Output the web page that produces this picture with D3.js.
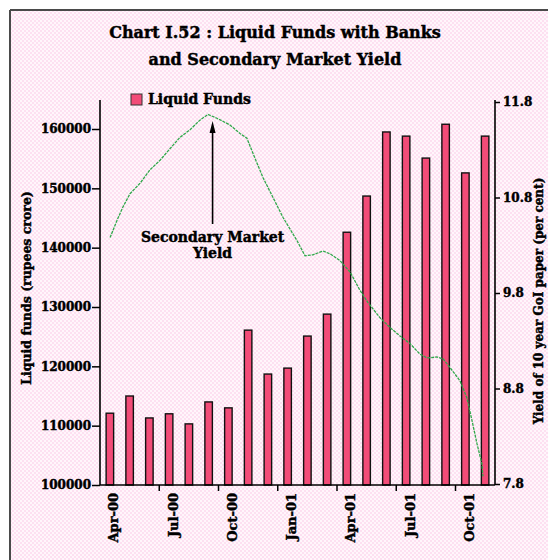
<!DOCTYPE html>
<html>
<head>
<meta charset="utf-8">
<script src="https://cdn.jsdelivr.net/npm/d3@7"></script>
<style>
  html, body { margin: 0; padding: 0; background: #ffffff; }
  svg { display: block; }
  text { font-family: "DejaVu Serif", "Liberation Serif", serif; font-weight: bold; fill: #000; stroke: #000; stroke-width: 0.45px; }
</style>
</head>
<body>
<script>
// ---------- DATA ----------
const months = ["Apr-00","May-00","Jun-00","Jul-00","Aug-00","Sep-00","Oct-00","Nov-00","Dec-00","Jan-01",
                "Feb-01","Mar-01","Apr-01","May-01","Jun-01","Jul-01","Aug-01","Sep-01","Oct-01","Nov-01"];
const liquidFunds = [112100,115000,111300,112000,110300,114000,113000,126100,118700,119700,
                     125100,128800,142600,148700,159500,158800,155100,160800,152600,158800];
const xTickLabels = ["Apr-00","Jul-00","Oct-00","Jan-01","Apr-01","Jul-01","Oct-01"];
const leftTicks = [100000,110000,120000,130000,140000,150000,160000];
const rightTicks = [7.8,8.8,9.8,10.8,11.8];
// secondary market yield: position in months from start of Apr-00, and yield (per cent)
const yieldMonths = [0.51,0.86,1.16,1.52,2.03,2.53,3.04,3.54,4.05,4.56,5.06,5.47,5.92,6.58,7.09,7.44,7.75,8.25,8.76,9.27,
                     9.97,10.38,10.78,11.29,11.65,12.15,12.66,13.16,13.57,14.18,14.68,15.19,15.70,16.20,16.56,17.06,17.37,
                     17.72,18.23,18.58,18.84,19.09,19.34,19.39];
const yieldValues = [10.38,10.56,10.70,10.84,10.95,11.09,11.19,11.31,11.43,11.51,11.61,11.67,11.63,11.56,11.47,11.42,11.26,11.01,10.80,10.59,
                     10.35,10.19,10.20,10.24,10.21,10.14,10.02,9.83,9.70,9.54,9.44,9.35,9.27,9.16,9.12,9.13,9.11,
                     9.02,8.88,8.70,8.46,8.22,8.01,7.88];
const title1 = "Chart I.52 : Liquid Funds with Banks";
const title2 = "and Secondary Market Yield";
const legendLabel = "Liquid Funds";
const leftTitle = "Liquid funds (rupees crore)";
const rightTitle = "Yield of 10 year GoI paper (per cent)";
const annotation = ["Secondary Market", "Yield"];

// ---------- LAYOUT ----------
const W = 548, H = 560;
const plotL = 100, plotR = 495, plotT = 100, plotB = 485;

const svg = d3.select("body").append("svg").attr("width", W).attr("height", H);

// background pattern
const defs = svg.append("defs");
const pat = defs.append("pattern").attr("id", "bg").attr("width", 4).attr("height", 4)
  .attr("patternUnits", "userSpaceOnUse");
pat.append("rect").attr("width", 4).attr("height", 4).attr("fill", "#fde0f1");
pat.append("rect").attr("x", 0).attr("y", 0).attr("width", 2).attr("height", 2).attr("fill", "#fff6fb");
pat.append("rect").attr("x", 2).attr("y", 2).attr("width", 2).attr("height", 2).attr("fill", "#fff6fb");

svg.append("rect").attr("x", 10).attr("y", 10).attr("width", W).attr("height", H).attr("fill", "url(#bg)");
svg.append("line").attr("x1", 10).attr("y1", 10).attr("x2", W).attr("y2", 10).attr("stroke", "#4a4a4a").attr("stroke-width", 2);
svg.append("line").attr("x1", 10).attr("y1", 10).attr("x2", 10).attr("y2", H).attr("stroke", "#4a4a4a").attr("stroke-width", 2);

// title
svg.append("text").attr("x", 275).attr("y", 38).attr("text-anchor", "middle").attr("font-size", 16).text(title1);
svg.append("text").attr("x", 275).attr("y", 65).attr("text-anchor", "middle").attr("font-size", 16).text(title2);

// scales
const x = d3.scaleBand().domain(months).range([plotL, plotR]).paddingInner(0.62).paddingOuter(0.31);
const xm = d3.scaleLinear().domain([0, months.length]).range([plotL, plotR]);
const yL = d3.scaleLinear().domain([100000, 160000]).range([plotB, 129]);
const yR = d3.scaleLinear().domain([7.8, 11.8]).range([484, 102]);

// bars
svg.append("g").selectAll("rect").data(liquidFunds).join("rect")
  .attr("x", (d, i) => x(months[i]))
  .attr("y", d => yL(d))
  .attr("width", x.bandwidth())
  .attr("height", d => plotB - yL(d))
  .attr("fill", "#f24c78")
  .attr("stroke", "#111")
  .attr("stroke-width", 1.4);

// yield line
const line = d3.line().x((d, i) => xm(yieldMonths[i])).y(d => yR(d));
svg.append("path").datum(yieldValues).attr("d", line)
  .attr("fill", "none").attr("stroke", "#2fa84a").attr("stroke-width", 1.3)
  .attr("stroke-dasharray", "3,1");

// left axis
const gL = svg.append("g").attr("transform", `translate(${plotL},0)`)
  .call(d3.axisLeft(yL).tickValues(leftTicks).tickSize(8).tickSizeOuter(0).tickFormat(d3.format("d")));
gL.select(".domain").remove();
gL.selectAll("text").attr("font-size", 12).attr("font-family", "DejaVu Serif").attr("font-weight", "bold").attr("x", -9);
gL.selectAll("line").attr("stroke", "#000").attr("stroke-width", 1.5);
svg.append("line").attr("x1", plotL).attr("x2", plotL).attr("y1", plotT).attr("y2", plotB)
  .attr("stroke", "#000").attr("stroke-width", 1.6);

// right axis
const gR = svg.append("g").attr("transform", `translate(${plotR},0)`)
  .call(d3.axisRight(yR).tickValues(rightTicks).tickSize(5).tickSizeOuter(0).tickFormat(d3.format(".1f")));
gR.select(".domain").remove();
gR.selectAll("text").attr("font-size", 12).attr("font-family", "DejaVu Serif").attr("font-weight", "bold").attr("x", 8);
gR.selectAll("line").attr("stroke", "#000").attr("stroke-width", 1.5);
svg.append("line").attr("x1", plotR).attr("x2", plotR).attr("y1", plotT).attr("y2", plotB)
  .attr("stroke", "#000").attr("stroke-width", 1.6);

// x axis
svg.append("line").attr("x1", plotL).attr("x2", plotR).attr("y1", plotB).attr("y2", plotB)
  .attr("stroke", "#000").attr("stroke-width", 1.6);
const quarterIdx = d3.range(3, months.length, 3);
svg.append("g").selectAll("line").data(quarterIdx).join("line")
  .attr("x1", d => xm(d)).attr("x2", d => xm(d)).attr("y1", plotB).attr("y2", plotB + 6)
  .attr("stroke", "#000").attr("stroke-width", 1.5);
svg.append("g").selectAll("text").data(xTickLabels).join("text")
  .attr("transform", d => `translate(${x(d) + x.bandwidth() / 2 + 4},${plotB + 8}) rotate(-90)`)
  .attr("text-anchor", "end").attr("dy", "0.35em").attr("font-size", 13).text(d => d);

// axis titles
svg.append("text").attr("transform", `translate(31,${288}) rotate(-90)`)
  .attr("text-anchor", "middle").attr("font-size", 12.5).text(leftTitle);
svg.append("text").attr("transform", `translate(539,${301}) rotate(-90)`)
  .attr("text-anchor", "middle").attr("dy", "0.35em").attr("font-size", 12).text(rightTitle);

// legend
svg.append("rect").attr("x", 131).attr("y", 94).attr("width", 11).attr("height", 11)
  .attr("fill", "#f24c78").attr("stroke", "#333").attr("stroke-width", 1);
svg.append("text").attr("x", 148).attr("y", 104).attr("font-size", 14).text(legendLabel);

// annotation
const ax = xm(5.7);
svg.append("text").attr("x", ax).attr("y", 242).attr("text-anchor", "middle").attr("font-size", 14).text(annotation[0]);
svg.append("text").attr("x", ax).attr("y", 258).attr("text-anchor", "middle").attr("font-size", 14).text(annotation[1]);
svg.append("line").attr("x1", ax).attr("x2", ax).attr("y1", 224).attr("y2", 130)
  .attr("stroke", "#000").attr("stroke-width", 1.6);
svg.append("path").attr("d", `M${ax},121 L${ax - 3},133 L${ax + 3},133 Z`).attr("fill", "#000");
</script>
</body>
</html>
